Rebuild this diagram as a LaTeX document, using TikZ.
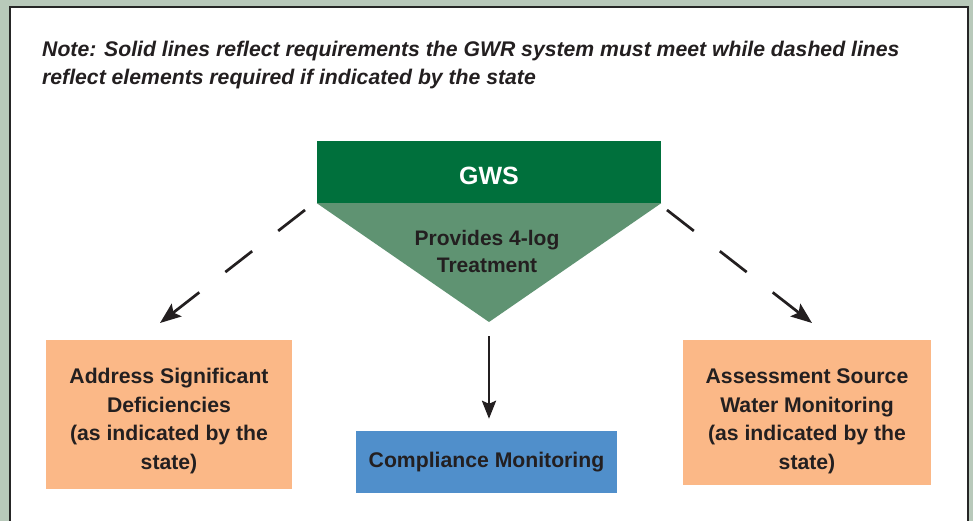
\documentclass[tikz,border=0pt]{standalone}
\usepackage{fontspec}
\setmainfont{Liberation Sans}
\usetikzlibrary{arrows.meta}
\definecolor{frameg}{HTML}{B8C9BA}
\definecolor{gwsgreen}{HTML}{00703C}
\definecolor{trigreen}{HTML}{5F9372}
\definecolor{orangebox}{HTML}{FBB887}
\definecolor{bluebox}{HTML}{508FCB}
\definecolor{ink}{HTML}{231F20}
\tikzset{
  boxtext/.style={font=\fontsize{21.2}{28.5}\selectfont\bfseries, text=ink, align=center, inner sep=0pt},
  orangenode/.style={boxtext, fill=orangebox},
  notetext/.style={anchor=base west, inner sep=0pt, text=ink, font=\fontsize{21.2}{28}\selectfont\bfseries\itshape},
  conn/.style={draw=ink, line width=2.7pt},
  dasharrow/.style={conn, dash pattern=on 34pt off 33pt on 34pt off 33pt on 80pt off 5pt,
     -{Stealth[length=21pt,width=16pt,inset=4pt]}},
  solidarrow/.style={conn, -{Stealth[length=18pt,width=14pt,inset=3pt]}}
}
\begin{document}
\begin{tikzpicture}[x=1pt,y=-1pt]
\useasboundingbox (0,0) rectangle (973,521);
\fill[frameg] (0,0) rectangle (973,521);
\draw[fill=white, draw=black!85, line width=2pt] (10,7) rectangle (968,540);
% note
\node[notetext] (note) at (42,57) {Note: Solid lines reflect requirements the GWR system must meet while dashed lines};
\node[notetext] (note2) at (42,85) {reflect elements required if indicated by the state};
% GWS
\node[fill=gwsgreen, minimum width=344pt, minimum height=62pt, inner sep=0pt, text=white,
      font=\fontsize{25}{30}\selectfont\bfseries, text height=26pt, text depth=0pt] (gws) at (489,172) {GWS};
\fill[trigreen] (gws.south west) -- (gws.south east) -- (489,322) coordinate (tip) -- cycle;
\node[boxtext, font=\fontsize{21}{27}\selectfont\bfseries, anchor=base] (treat) at (487,272) {Provides 4-log\\Treatment};
% boxes
\node[orangenode, minimum width=246pt, minimum height=149pt] (asd) at (169,414.5) {\rule{0pt}{28pt}Address Significant\\Deficiencies\\(as indicated by the\\state)};
\node[orangenode, minimum width=248pt, minimum height=145pt] (aswm) at (807,412.5) {\rule{0pt}{32pt}Assessment Source\\Water Monitoring\\(as indicated by the\\state)};
\node[boxtext, fill=bluebox, minimum width=261pt, minimum height=62pt] (comp) at (486.5,462) {Compliance Monitoring};
% connectors
\coordinate (ls) at (305,210);
\coordinate (le) at (160,323);
\coordinate (rs) at (667,210);
\coordinate (re) at (812,323);
\draw[dasharrow] (ls) -- (le);
\draw[dasharrow] (rs) -- (re);
\draw[solidarrow, shorten <=14pt, shorten >=12pt] (tip) -- (tip |- comp.north);
\end{tikzpicture}
\end{document}
